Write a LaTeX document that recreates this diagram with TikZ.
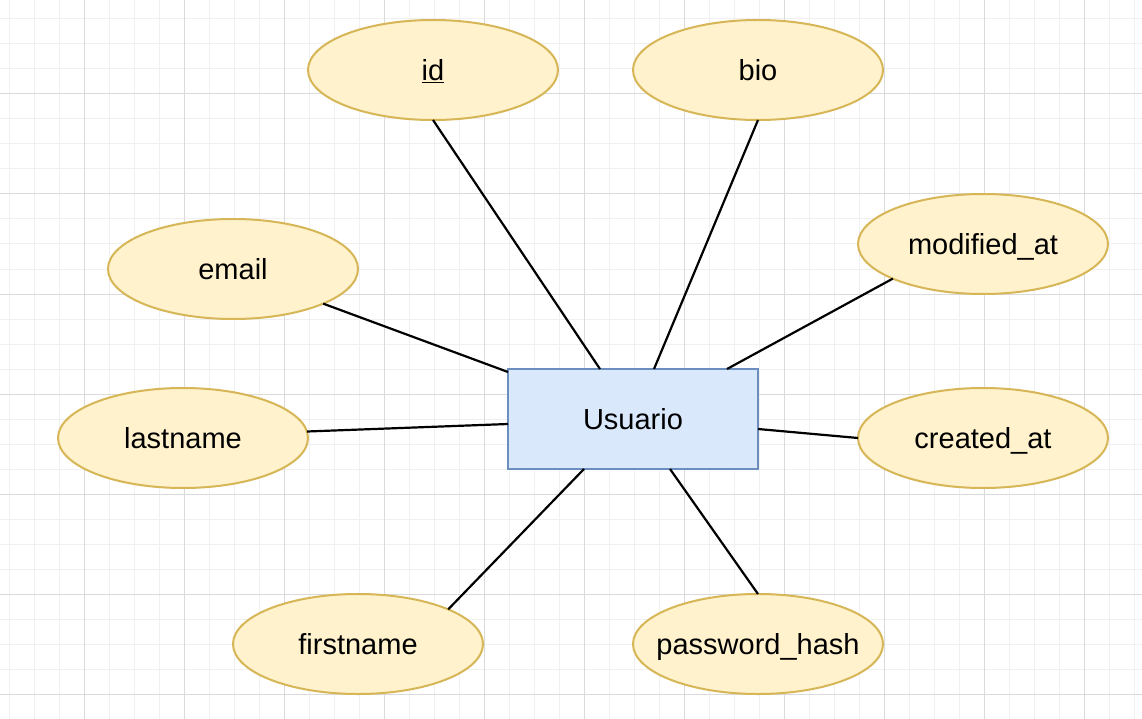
\documentclass[tikz,border=0pt]{standalone}
\usepackage{fontspec}
\setmainfont{Liberation Sans}
\usetikzlibrary{shapes.geometric,calc}
\definecolor{attrfill}{HTML}{FFF2CC}
\definecolor{attrdraw}{HTML}{D6B656}
\definecolor{entfill}{HTML}{DAE8FC}
\definecolor{entdraw}{HTML}{6C8EBF}
\definecolor{gridminor}{HTML}{F0F0F0}
\definecolor{gridmajor}{HTML}{DADADA}
\newcommand{\zw}[1]{\makebox[0pt][c]{#1}}
\begin{document}
\begin{tikzpicture}[x=1pt,y=-1pt,
  lbl/.style={font=\fontsize{29}{34}\selectfont,text height=26.2pt,text depth=6.1pt},
  attr/.style={ellipse,draw=attrdraw,fill=attrfill,line width=2pt,minimum width=250pt,minimum height=100pt,inner sep=0pt,outer sep=0pt,lbl},
  entity/.style={rectangle,draw=entdraw,fill=entfill,line width=2pt,minimum width=250pt,minimum height=100pt,inner sep=0pt,outer sep=0pt,lbl},
  link/.style={draw=black,line width=2.2pt}]
\useasboundingbox (0,0) rectangle (1142,719);
\fill[white] (0,0) rectangle (1142,719);
\foreach \x in {9,34,...,1134} \draw[gridminor,line width=1pt] (\x,0) -- (\x,719);
\foreach \y in {19,44,...,719} \draw[gridminor,line width=1pt] (0,\y) -- (1142,\y);
\foreach \x in {84,184,...,1084} \draw[gridmajor,line width=1pt] (\x,0) -- (\x,719);
\foreach \y in {94,194,...,694} \draw[gridmajor,line width=1pt] (0,\y) -- (1142,\y);

\node[entity] (u) at (633,419) {Usuario};
\node[attr] (id) at (433,70) {\zw{\underline{id}}};
\node[attr] (bio) at (758,70) {\zw{bio}};
\node[attr] (email) at (233,269) {\zw{email}};
\node[attr] (mod) at (983,244) {\zw{modified\_at}};
\node[attr] (last) at (183,438) {\zw{lastname}};
\node[attr] (cre) at (983,438) {\zw{created\_at}};
\node[attr] (first) at (358,644) {\zw{firstname}};
\node[attr] (pw) at (758,644) {\zw{password\_hash}};

\draw[link] (id.south) -- ([xshift=-33pt]u.north);
\draw[link] (bio.south) -- ([xshift=21pt]u.north);
\draw[link] (mod.201.7) -- ([xshift=94pt]u.north);
\draw[link] (email.339.2) -- ([yshift=-3pt]u.north west);
\draw[link] (last.3) -- ([yshift=-5pt]u.west);
\draw[link] (cre.west) -- ([yshift=-10pt]u.east);
\draw[link] (first.21.8) -- ([xshift=-49pt]u.south);
\draw[link] (pw.north) -- ([xshift=37pt]u.south);
\end{tikzpicture}
\end{document}
